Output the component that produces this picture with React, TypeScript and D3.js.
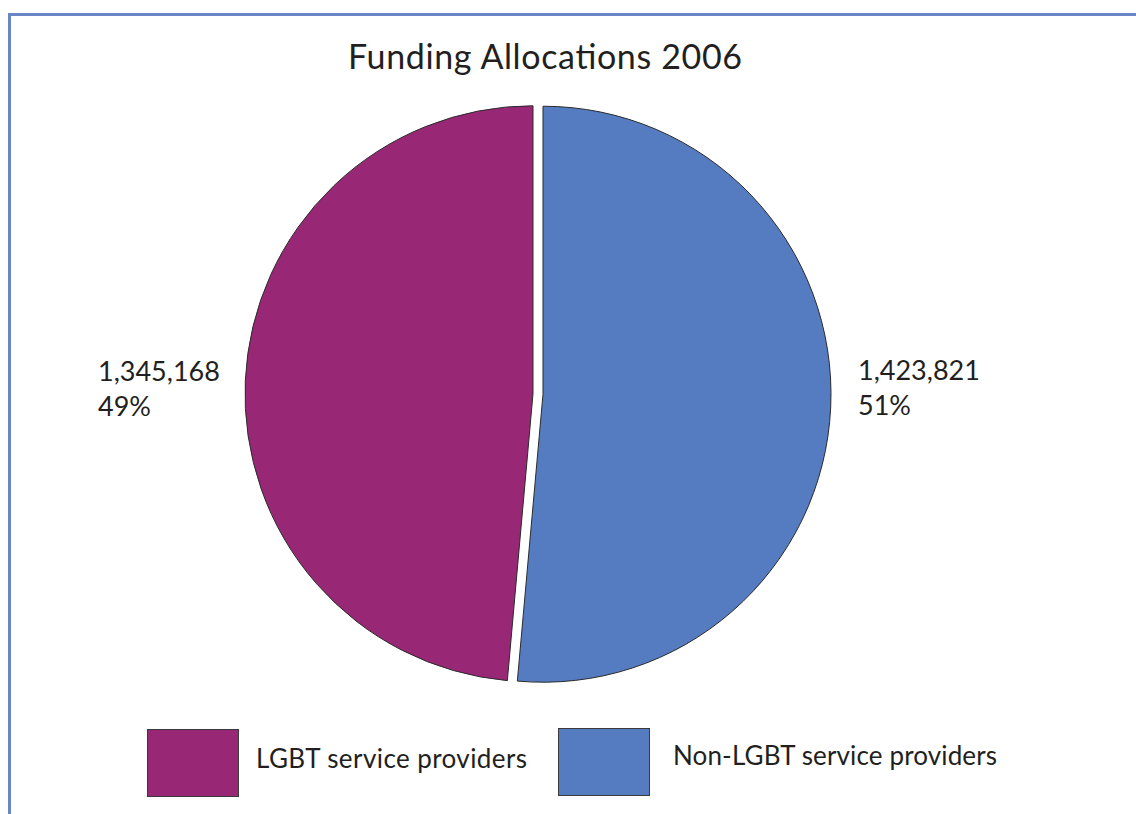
import { useEffect, useRef } from 'react';
import * as d3 from 'd3';

// Funding allocations 2006, in the order shown in the legend
const CATEGORIES = ['LGBT service providers', 'Non-LGBT service providers'];
const AMOUNTS = [1345168, 1423821];
const PERCENT_LABELS = ['49%', '51%'];
const COLOURS = ['#982775', '#557cc0'];

const W = 1136;
const H = 814;
const CX = 538;
const CY = 394;
const R = 288;
const EXPLODE = 5;
const FONT = 'Lato, "Open Sans", sans-serif';

export default function App() {
  const svgRef = useRef<SVGSVGElement>(null);

  useEffect(() => {
    if (!svgRef.current) return;
    const svg = d3.select(svgRef.current);
    svg.selectAll('*').remove();

    // frame: top and left edge only
    svg.append('path')
      .attr('d', `M9.5,${H} L9.5,14.5 L${W},14.5`)
      .attr('fill', 'none')
      .attr('stroke', '#6a86c6')
      .attr('stroke-width', 3);

    svg.append('text')
      .attr('x', 348)
      .attr('y', 69)
      .attr('font-family', FONT)
      .attr('font-size', 34)
      .attr('textLength', 394)
      .attr('lengthAdjust', 'spacing')
      .attr('fill', '#231f20')
      .text('Funding Allocations 2006');

    // blue slice starts at 12 o'clock going clockwise, purple fills the rest
    const rows = CATEGORIES.map((c, i) => ({ name: c, value: AMOUNTS[i], colour: COLOURS[i], pct: PERCENT_LABELS[i] }));
    const pie = d3.pie<(typeof rows)[number]>()
      .sort(null)
      .value((d) => d.value);
    const arcs = pie([rows[1], rows[0]]);
    const arc = d3.arc<d3.PieArcDatum<(typeof rows)[number]>>().innerRadius(0).outerRadius(R);

    const g = svg.append('g').attr('transform', `translate(${CX},${CY})`);
    arcs.forEach((a) => {
      const mid = (a.startAngle + a.endAngle) / 2;
      const dx = Math.sin(mid) * EXPLODE;
      const dy = -Math.cos(mid) * EXPLODE;
      g.append('path')
        .attr('d', arc(a) as string)
        .attr('transform', `translate(${dx},${dy})`)
        .attr('fill', a.data.colour)
        .attr('stroke', '#2b2b2b')
        .attr('stroke-width', 1);
    });

    // value labels beside the pie
    const fmt = d3.format(',');
    const labelPos = [
      { x: 98, y: 381 },
      { x: 858, y: 380 },
    ];
    rows.forEach((d, i) => {
      const t = svg.append('text')
        .attr('x', labelPos[i].x)
        .attr('y', labelPos[i].y)
        .attr('font-family', FONT)
        .attr('font-size', 27)
        .attr('fill', '#231f20');
      t.append('tspan').attr('x', labelPos[i].x).text(fmt(d.value));
      t.append('tspan').attr('x', labelPos[i].x).attr('dy', 35).text(d.pct);
    });

    // legend
    const legend = [
      { bx: 147, by: 729, tx: 256, ty: 768, len: 271 },
      { bx: 558, by: 728, tx: 673, ty: 765, len: 324 },
    ];
    rows.forEach((d, i) => {
      svg.append('rect')
        .attr('x', legend[i].bx + 0.5)
        .attr('y', legend[i].by + 0.5)
        .attr('width', 91)
        .attr('height', 67)
        .attr('fill', d.colour)
        .attr('stroke', '#3a3a3a')
        .attr('stroke-width', 1);
      svg.append('text')
        .attr('x', legend[i].tx)
        .attr('y', legend[i].ty)
        .attr('font-family', FONT)
        .attr('font-size', 26)
        .attr('textLength', legend[i].len)
        .attr('lengthAdjust', 'spacing')
        .attr('fill', '#231f20')
        .text(d.name);
    });
  }, []);

  return (
    <svg
      ref={svgRef}
      width={W}
      height={H}
      style={{ position: 'absolute', left: 0, top: 0, background: '#fff' }}
    />
  );
}
